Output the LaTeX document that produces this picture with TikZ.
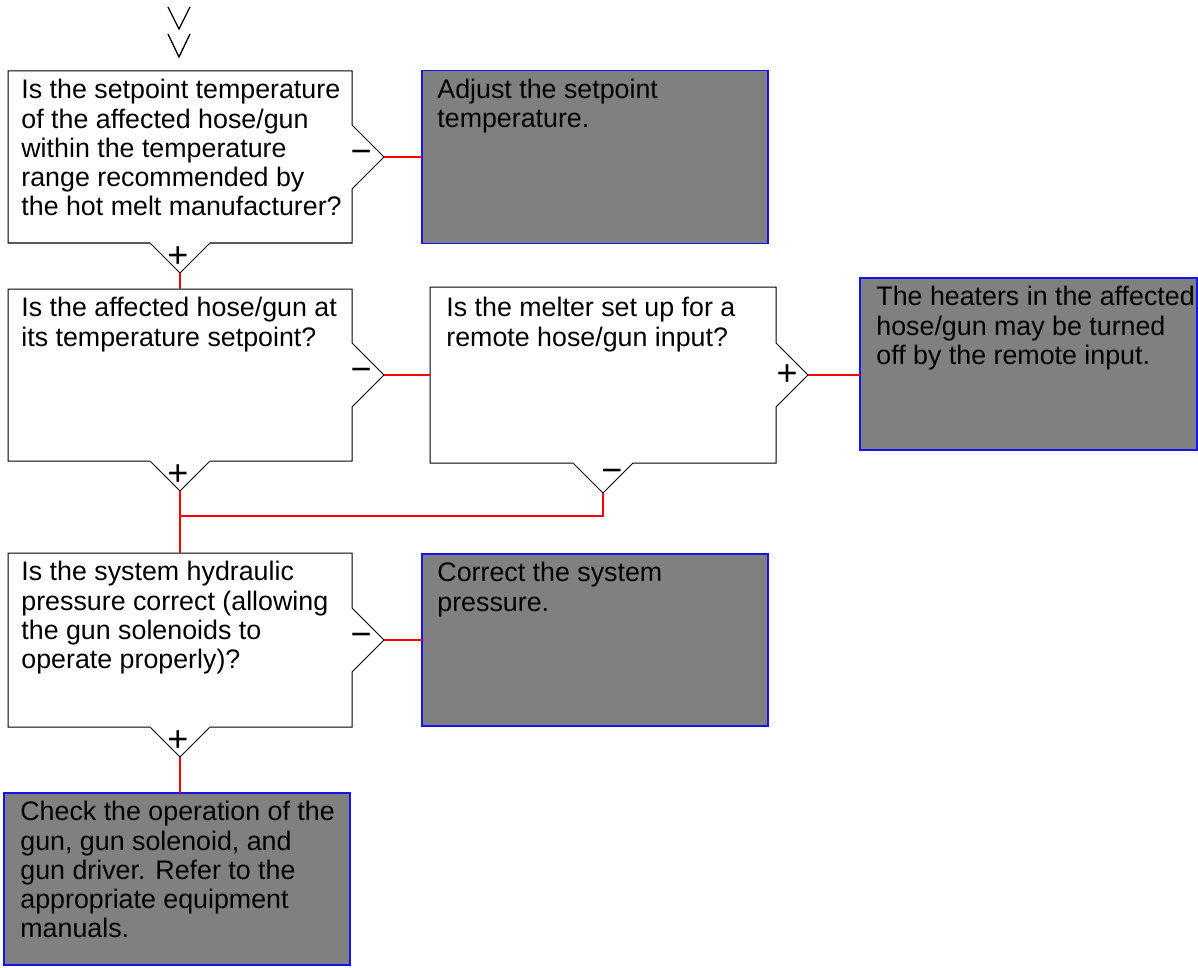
\documentclass[tikz,border=0pt]{standalone}
\usepackage{fontspec}
\setmainfont{Liberation Sans}
\usepackage{tikz}
\usetikzlibrary{positioning}
\definecolor{boxgray}{RGB}{128, 128, 128}
\definecolor{boxblue}{RGB}{20, 20, 235}
\definecolor{linkred}{RGB}{255, 0, 0}
\newcommand{\boxfont}{\fontsize{13.4}{14.6}\selectfont}
% outline of a question box with its two exits, plus coordinates at the tips
\newcommand{\askoutline}[1]{%
  \draw[askline] (#1.north west) -- (#1.north east)
    -- ([yshift=16pt]#1.east) -- ([xshift=16pt]#1.east) -- ([yshift=-16pt]#1.east)
    -- (#1.south east) -- ([xshift=15pt]#1.south) -- ([yshift=-15pt]#1.south)
    -- ([xshift=-15pt]#1.south) -- (#1.south west) -- cycle;
  \coordinate (#1-r) at ([xshift=16pt]#1.east);
  \coordinate (#1-b) at ([yshift=-15pt]#1.south);}

\begin{document}
\begin{tikzpicture}[x=0.5pt, y=-0.5pt,
    askbox/.style={rectangle, minimum width=172pt, minimum height=86pt, inner sep=0pt, outer sep=0pt},
    fixbox/.style={rectangle, draw=boxblue, fill=boxgray, line width=0.75pt, minimum width=173pt, minimum height=86.5pt, inner sep=0pt, outer sep=0pt},
    txt/.style={align=left, inner sep=0pt, font=\boxfont},
    sign/.style={inner sep=0pt, font=\fontsize{18}{18}\selectfont},
    askline/.style={draw=black, line width=0.5pt},
    link/.style={draw=linkred, line width=0.6pt}]
    \useasboundingbox (0,0) rectangle (1198,968);

    % entry mark
    \draw[askline, line width=0.65pt] (168,7) -- (179,29) -- (190,7);
    \draw[askline, line width=0.65pt] (168,34) -- (179,57) -- (190,34);

    \node [askbox] (q1) at (180,157) {};
    \node [fixbox, right=35pt of q1] (a1) {};
    \node [askbox, below=23pt of q1] (q2) {};
    \node [askbox, right=39pt of q2, minimum width=173pt, minimum height=88pt] (q3) {};
    \node [fixbox, right=42pt of q3, yshift=5.5pt, minimum width=168.5pt, minimum height=86pt] (a2) {};
    \node [askbox, below=46pt of q2, minimum height=87pt] (q4) {};
    \node [fixbox, right=35pt of q4, minimum height=86pt] (a3) {};
    \node [fixbox, below=33pt of q4, xshift=-1.5pt, minimum height=86pt] (a4) {};

    \askoutline{q1}
    \askoutline{q2}
    \askoutline{q3}
    \askoutline{q4}

    \node [txt, below right=4pt and 6.5pt of q1.north west] (q1t) {Is the setpoint temperature\\of the affected hose/gun\\within the temperature\\range recommended by\\the hot melt manufacturer?};
    \node [txt, below right=4pt and 7.5pt of a1.north west] (a1t) {Adjust the setpoint\\temperature.};
    \node [txt, below right=4pt and 6.5pt of q2.north west] (q2t) {Is the affected hose/gun at\\its temperature setpoint?};
    \node [txt, below right=5pt and 8pt of q3.north west] (q3t) {Is the melter set up for a\\remote hose/gun input?};
    \node [txt, below right=4pt and 8pt of a2.north west] (a2t) {The heaters in the affected\\hose/gun may be turned\\off by the remote input.};
    \node [txt, below right=4pt and 6.5pt of q4.north west] (q4t) {Is the system hydraulic\\pressure correct (allowing\\the gun solenoids to\\operate properly)?};
    \node [txt, below right=4pt and 7.5pt of a3.north west] (a3t) {Correct the system\\pressure.};
    \node [txt, below right=4pt and 8pt of a4.north west] (a4t) {Check the operation of the\\gun, gun solenoid, and\\gun driver. Refer to the\\appropriate equipment\\manuals.};

    % exit signs
    \node [sign, left=6pt of q1-r] (q1-no) {−};
    \node [sign, above=2.5pt of q1-b, xshift=-1pt] (q1-yes) {+};
    \node [sign, left=6pt of q2-r] (q2-no) {−};
    \node [sign, above=2.5pt of q2-b, xshift=-1pt] (q2-yes) {+};
    \node [sign, left=5pt of q3-r] (q3-yes) {+};
    \node [sign, above=5pt of q3-b, xshift=4.5pt] (q3-no) {−};
    \node [sign, left=6pt of q4-r] (q4-no) {−};
    \node [sign, above=2.5pt of q4-b, xshift=-1pt] (q4-yes) {+};

    \coordinate (merge) at (q2-b |- 0,516);
    \path [link] (q1-r) -- (q1-r -| a1.west);
    \path [link] (q1-b) -- (q2);
    \path [link] (q2-r) -- (q2-r -| q3.west);
    \path [link] (q3-r) -- (q3-r -| a2.west);
    \path [link] (q2-b) -- (q4);
    \path [link] (q3-b) |- (merge);
    \path [link] (q4-r) -- (q4-r -| a3.west);
    \path [link] (q4-b) -- (a4.north -| q4-b);
\end{tikzpicture}
\end{document}
